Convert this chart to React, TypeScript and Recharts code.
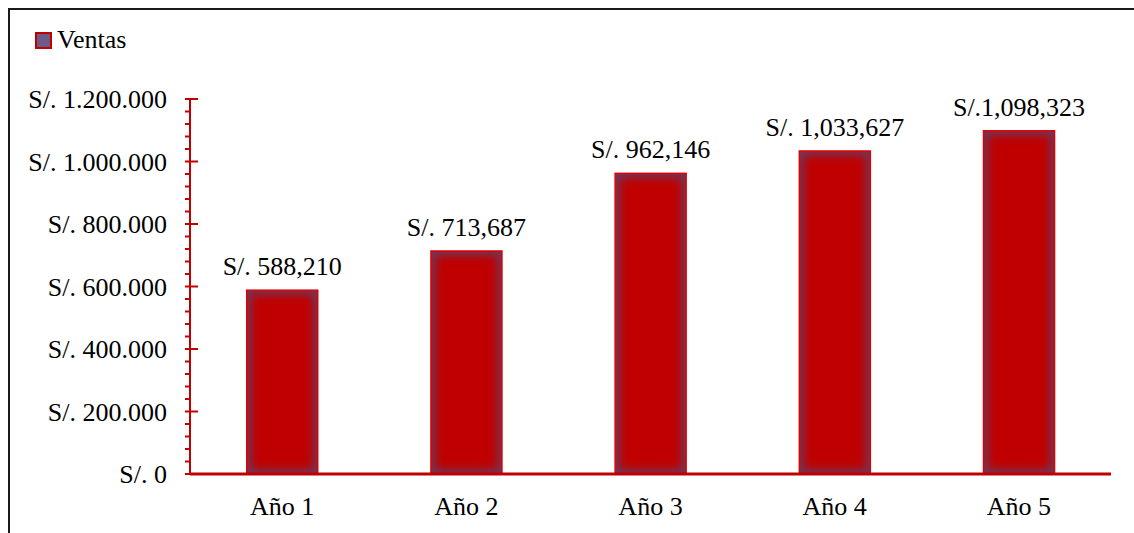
import { BarChart, Bar, XAxis, YAxis, LabelList } from 'recharts';

const years = ['Año 1', 'Año 2', 'Año 3', 'Año 4', 'Año 5'];
const ventas = [588210, 713687, 962146, 1033627, 1098323];
const ventasLabels = ['S/. 588,210', 'S/. 713,687', 'S/. 962,146', 'S/. 1,033,627', 'S/.1,098,323'];
const majorTicks = [0, 200000, 400000, 600000, 800000, 1000000, 1200000];
const minorPerMajor = 5;

const RED = '#c00000';
const FONT = '"Liberation Serif", "Times New Roman", serif';

const data = years.map((name, i) => ({ name, ventas: ventas[i], label: ventasLabels[i] }));

// every major tick plus the minor ticks between them
const yTicks: number[] = [];
majorTicks.forEach((t, i) => {
  yTicks.push(t);
  const next = majorTicks[i + 1];
  if (next !== undefined) {
    for (let k = 1; k < minorPerMajor; k++) yTicks.push(t + ((next - t) * k) / minorPerMajor);
  }
});

const fmt = (v: number) => 'S/. ' + String(v).replace(/\B(?=(\d{3})+(?!\d))/g, '.');

function YTick({ x, y, payload }: any) {
  const v = payload.value;
  const major = majorTicks.includes(v);
  const ax = x + 23;
  return (
    <g>
      <line x1={ax - 5} x2={ax + (major ? 8 : 0)} y1={y} y2={y} stroke={RED} strokeWidth={2} />
      {major && (
        <text x={x} y={y} dy={9} textAnchor="end" fontFamily={FONT} fontSize={26} fill="#000">
          {fmt(v)}
        </text>
      )}
    </g>
  );
}

function XTick({ x, y, payload }: any) {
  return (
    <text x={x} y={y + 41} textAnchor="middle" fontFamily={FONT} fontSize={26} fill="#000">
      {payload.value}
    </text>
  );
}

// bar with a soft dark inner edge, like the glow effect of the original
function GlowBar(props: any) {
  const { x, y, width, height, index } = props;
  if (!height || height <= 0) return null;
  const id = `barclip-${index}`;
  return (
    <g>
      <clipPath id={id}>
        <rect x={x} y={y} width={width} height={height} />
      </clipPath>
      <g clipPath={`url(#${id})`}>
        <rect x={x} y={y} width={width} height={height} fill="#6a3a5e" />
        <rect
          x={x + 4}
          y={y + 4}
          width={width - 8}
          height={height - 8}
          fill={RED}
          filter="url(#barGlow)"
        />
      </g>
      <rect x={x} y={y} width={width} height={height} fill="none" stroke="#e00000" strokeWidth={1.5} />
    </g>
  );
}

function BarLabel(props: any) {
  const { x, y, width, value } = props;
  return (
    <text x={x + width / 2} y={y - 15} textAnchor="middle" fontFamily={FONT} fontSize={26} fill="#000">
      {value}
    </text>
  );
}

export default function App() {
  return (
    <div style={{ position: 'relative', width: 1134, height: 533, overflow: 'hidden', background: '#fff' }}>
      <style>{'html,body{margin:0;padding:0;overflow:hidden;background:#fff}'}</style>
      <div
        style={{
          position: 'absolute',
          left: 8,
          top: 8,
          width: 1200,
          height: 600,
          borderTop: '2px solid #1a1a1a',
          borderLeft: '2px solid #1a1a1a',
        }}
      />
      <svg width={200} height={60} style={{ position: 'absolute', left: 0, top: 0 }}>
        <rect x={36} y={33} width={15} height={15} fill="#6e5a86" stroke={RED} strokeWidth={2} />
        <text x={57} y={48} fontFamily={FONT} fontSize={26} fill="#000">
          Ventas
        </text>
      </svg>
      <div style={{ position: 'absolute', left: 0, top: 0 }}>
        <BarChart
          width={1134}
          height={533}
          data={data}
          margin={{ top: 99, right: 23, bottom: 0, left: 0 }}
          barCategoryGap="30.8%"
        >
          <defs>
            <filter id="barGlow" x="-20%" y="-20%" width="140%" height="140%">
              <feGaussianBlur stdDeviation={5} />
            </filter>
          </defs>
          <XAxis
            dataKey="name"
            height={59}
            axisLine={{ stroke: RED, strokeWidth: 3 }}
            tickLine={false}
            tickSize={0}
            tickMargin={0}
            tick={<XTick />}
            interval={0}
          />
          <YAxis
            width={190}
            domain={[0, 1200000]}
            ticks={yTicks}
            interval={0}
            axisLine={{ stroke: RED, strokeWidth: 2 }}
            tickLine={false}
            tickSize={0}
            tickMargin={23}
            tick={<YTick />}
          />
          <Bar dataKey="ventas" name="Ventas" shape={<GlowBar />} isAnimationActive={false}>
            <LabelList dataKey="label" content={<BarLabel />} />
          </Bar>
        </BarChart>
      </div>
    </div>
  );
}
